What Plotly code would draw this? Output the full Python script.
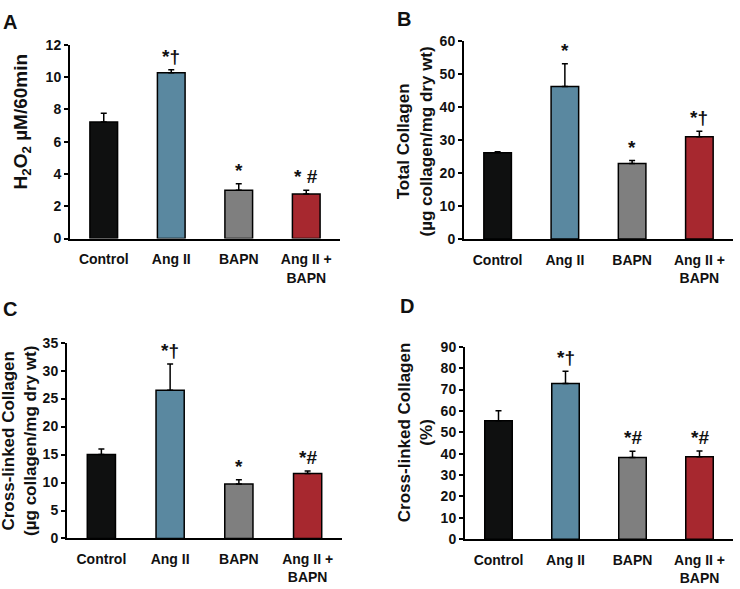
import plotly.graph_objects as go

categories = ["Control", "Ang II", "BAPN", "Ang II +<br>BAPN"]
colors = ["#0f1010", "#5a88a0", "#7f7f7f", "#a7282f"]

# Panel A: H2O2
a_vals = [7.22, 10.27, 3.0, 2.77]
a_err = [0.55, 0.2, 0.4, 0.23]
a_marks = ["", "*†", "*", "* #"]

# Panel B: Total collagen
b_vals = [26.2, 46.3, 22.9, 31.0]
b_err = [0.3, 6.9, 0.9, 1.7]
b_marks = ["", "*", "*", "*†"]

# Panel C: Cross-linked collagen
c_vals = [15.0, 26.5, 9.75, 11.6]
c_err = [1.0, 4.7, 0.75, 0.45]
c_marks = ["", "*†", "*", "*#"]

# Panel D: Cross-linked collagen (%)
d_vals = [55.4, 72.8, 38.2, 38.6]
d_err = [4.7, 5.8, 2.9, 2.6]
d_marks = ["", "*†", "*#", "*#"]

panels = [
    dict(v=a_vals, e=a_err, m=a_marks, ymax=12, dtick=2, xd=[70/740, 340/740], yd=[0.5976, 0.9355]),
    dict(v=b_vals, e=b_err, m=b_marks, ymax=60, dtick=10, xd=[464/740, 733/740], yd=[0.597, 0.9418]),
    dict(v=c_vals, e=c_err, m=c_marks, ymax=35, dtick=5, xd=[67/740, 342/740], yd=[0.0742, 0.416]),
    dict(v=d_vals, e=d_err, m=d_marks, ymax=90, dtick=10, xd=[465/740, 733/740], yd=[0.073, 0.4087]),
]

FONT = "Liberation Sans, Arial, sans-serif"
fig = go.Figure()
annotations = []
layout = {}
for i, p in enumerate(panels):
    sfx = "" if i == 0 else str(i + 1)
    fig.add_trace(go.Bar(
        x=categories, y=p["v"],
        marker=dict(color=colors, line=dict(color="black", width=1.5)),
        width=0.41,
        error_y=dict(type="data", symmetric=False, array=p["e"], arrayminus=[0]*4,
                     color="black", thickness=1.5, width=3),
        xaxis="x" + sfx, yaxis="y" + sfx, showlegend=False,
    ))
    layout["xaxis" + sfx] = dict(
        domain=p["xd"], anchor="y" + sfx, showline=True, linecolor="black", linewidth=2,
        ticks="outside", ticklen=7, tickcolor="rgba(0,0,0,0)",
        tickfont=dict(family=FONT, size=14, color="#111", weight="bold"), fixedrange=True,
        range=[-0.5, 3.5],
    )
    layout["yaxis" + sfx] = dict(
        domain=p["yd"], anchor="x" + sfx, showline=True, linecolor="black", linewidth=2,
        ticks="outside", ticklen=4, tickwidth=1.5, tickcolor="black",
        range=[0, p["ymax"]], dtick=p["dtick"], showgrid=False, zeroline=False,
        tickfont=dict(family=FONT, size=14, color="#111", weight="bold"),
    )
    for j, mk in enumerate(p["m"]):
        if mk:
            annotations.append(dict(
                x=categories[j], y=p["v"][j] + p["e"][j], xref="x" + sfx, yref="y" + sfx,
                text="<b>" + mk + "</b>", showarrow=False, yanchor="bottom", yshift=1,
                font=dict(family=FONT, size=19, color="#111"),
            ))

# Panel letters
for letter, x, y in [("A", 10/740, 1 - 14/589), ("B", 404/740, 1 - 11/589),
                     ("C", 10/740, 1 - 309/589), ("D", 407/740, 1 - 306/589)]:
    annotations.append(dict(x=x, y=y, xref="paper", yref="paper", text="<b>" + letter + "</b>",
                            showarrow=False, xanchor="center", yanchor="middle",
                            font=dict(family=FONT, size=20, color="#111")))

# Y-axis titles
ytitles = [
    ("H<sub>2</sub>O<sub>2</sub> µM/60min", 22/740, 0.802, 19),
    ("Total Collagen<br>(µg collagen/mg dry wt)", 415/740, 0.767, 17),
    ("Cross-linked Collagen<br>(µg collagen/mg dry wt)", 20/740, 0.2445, 17),
    ("Cross-linked Collagen<br>(%)", 415/740, 0.258, 17),
]
for t, x, y, s in ytitles:
    annotations.append(dict(x=x, y=y, xref="paper", yref="paper", text="<b>" + t + "</b>",
                            showarrow=False, textangle=-90, xanchor="center", yanchor="middle",
                            font=dict(family=FONT, size=s, color="#111")))

fig.update_layout(
    width=740, height=589, margin=dict(l=0, r=0, t=0, b=0),
    paper_bgcolor="white", plot_bgcolor="white",
    annotations=annotations, bargap=0.59,
    **layout,
)
fig.write_html("out.html", config={"displayModeBar": False},
               post_script="document.body.style.margin='0';")
